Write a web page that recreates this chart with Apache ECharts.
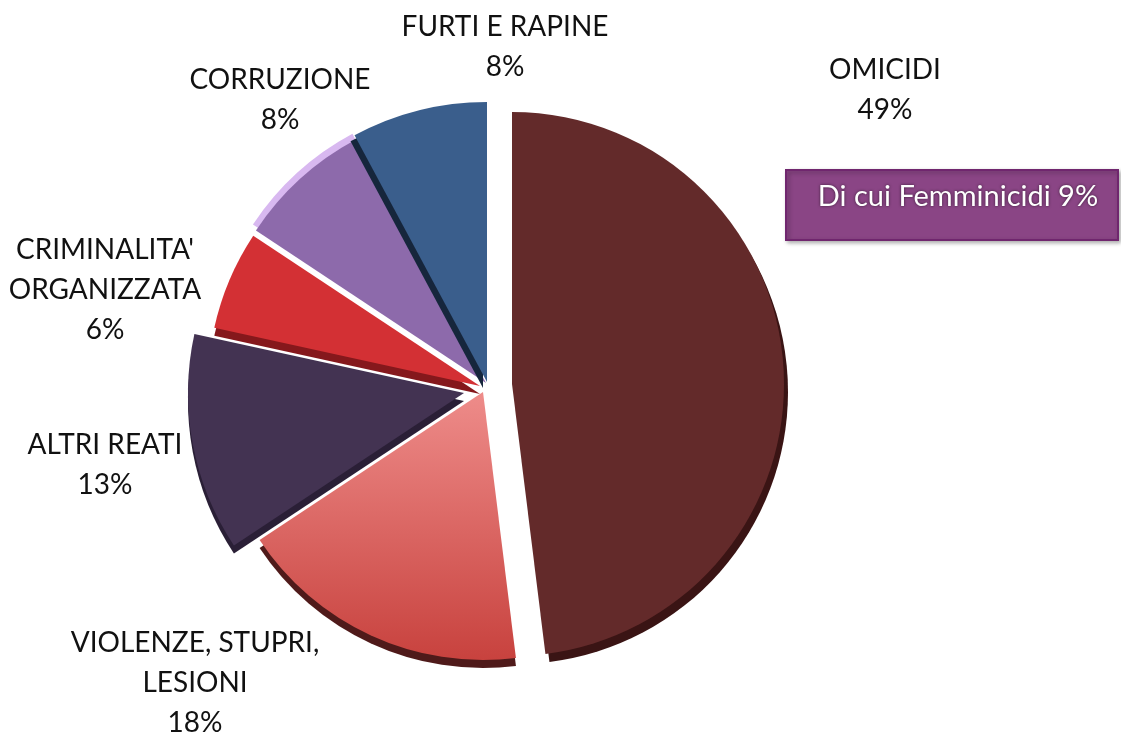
<!DOCTYPE html>
<html>
<head>
<meta charset="utf-8">
<script src="https://cdn.jsdelivr.net/npm/echarts@6/dist/echarts.min.js"></script>
<style>
  html, body { margin: 0; padding: 0; background: #fff; }
  #chart { width: 1121px; height: 738px; }
</style>
</head>
<body>
<div id="chart"></div>
<script>
// dati
var categories = ['OMICIDI', 'VIOLENZE, STUPRI,\nLESIONI', 'ALTRI REATI', "CRIMINALITA'\nORGANIZZATA", 'CORRUZIONE', 'FURTI E RAPINE'];
var values = [49, 18, 13, 6, 8, 8];
var note = 'Di cui Femminicidi 9%';

var colors = [
  '#632a2a',
  new echarts.graphic.LinearGradient(0, 0, 0, 1, [{ offset: 0, color: '#ee8c8a' }, { offset: 1, color: '#c8423e' }]),
  '#433352',
  '#d33034',
  '#8d6aab',
  '#3a5e8c'
];
var sideColors = ['#3a1414', '#4f1a1a', '#2a1f36', '#85181c', '#d8b8f0', '#16263c'];

// layout: ogni fetta ha il suo centro (effetto "esploso") e raggio
var centers = [[512, 384], [483, 392], [464, 393], [480, 386], [486, 383], [487, 382]];
var radii = [272, 268, 276, 272, 276, 280];
var shadowOff = [[4, 8], [0, 8], [0, 8], [0, 8], [-3, -6], [-4, 6]];
// posizioni delle etichette (centro del testo)
var labelPos = [[885, 90], [195, 683], [105, 465], [105, 290], [280, 100], [505, 47]];

var chart = echarts.init(document.getElementById('chart'));

var series = categories.map(function (c, k) {
  return {
    type: 'pie',
    z: 2,
    center: centers[k],
    radius: [0, radii[k]],
    startAngle: 90,
    clockwise: true,
    avoidLabelOverlap: false,
    silent: true,
    data: categories.map(function (name, i) {
      var on = i === k;
      return {
        name: name,
        value: values[i],
        label: { show: on },
        itemStyle: on ? {
          color: colors[i],
          shadowColor: sideColors[i],
          shadowOffsetX: shadowOff[i][0],
          shadowOffsetY: shadowOff[i][1],
          shadowBlur: 0
        } : { color: 'rgba(0,0,0,0)' }
      };
    }),
    label: {
      formatter: '{b}\n{c}%',
      fontFamily: 'Lato',
      fontSize: 28,
      lineHeight: 40,
      color: '#111',
      align: 'center'
    },
    labelLine: { show: false },
    labelLayout: function (p) {
      var pos = labelPos[p.dataIndex];
      return { x: pos[0], y: pos[1], align: 'center', verticalAlign: 'middle' };
    },
    emphasis: { disabled: true }
  };
});

chart.setOption({
  animation: false,
  series: series,
  graphic: [{
    type: 'rect',
    shape: { x: 786, y: 170, width: 332, height: 70 },
    style: {
      fill: '#8a4585',
      stroke: '#70266e',
      lineWidth: 2,
      shadowColor: 'rgba(0,0,0,0.3)',
      shadowBlur: 4,
      shadowOffsetX: 2,
      shadowOffsetY: 2
    }
  }, {
    type: 'text',
    x: 958,
    y: 197,
    style: {
      text: note,
      fill: '#fff',
      font: '29px Lato',
      align: 'center',
      verticalAlign: 'middle',
      textShadowColor: 'rgba(0,0,0,0.6)',
      textShadowBlur: 3
    }
  }]
});
</script>
</body>
</html>
